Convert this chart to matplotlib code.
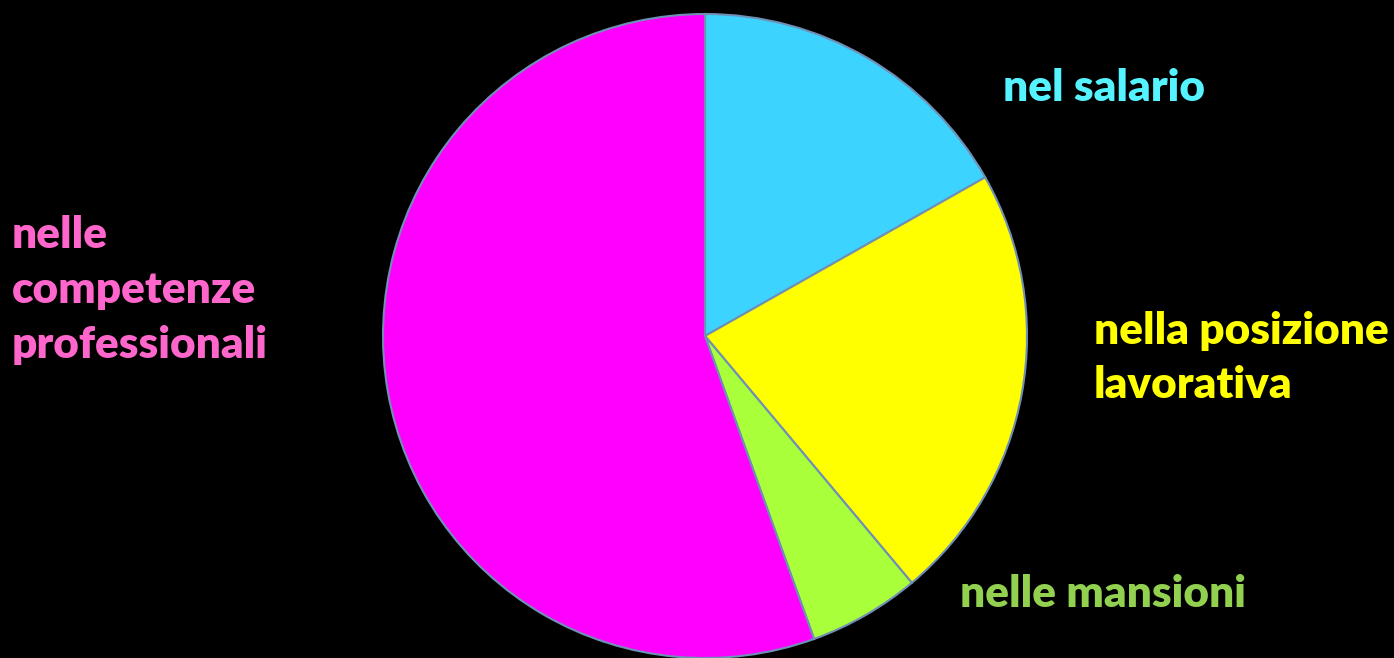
import matplotlib
matplotlib.use("Agg")
import matplotlib.pyplot as plt

categories = ["nel salario", "nella posizione\nlavorativa", "nelle mansioni", "nelle\ncompetenze\nprofessionali"]
values = [16.8, 22.1, 5.6, 55.5]
slice_colors = ["#3DD3FF", "#FFFF00", "#A8FF3A", "#FF00FF"]
label_colors = ["#55F2FF", "#FFFF00", "#92D050", "#FF66CC"]

W, H = 1394, 658
fig = plt.figure(figsize=(W / 100, H / 100), dpi=100, facecolor="black")
ax = fig.add_axes([0, 0, 1, 1])
ax.set_facecolor("black")

cx, cy, r = 705, H - 336, 322
ax.pie(values, colors=slice_colors, startangle=90, counterclock=False,
       center=(cx, cy), radius=r, frame=True,
       wedgeprops=dict(edgecolor="#6F8FB5", linewidth=1.5))
ax.set_xlim(0, W)
ax.set_ylim(0, H)
ax.set_aspect("equal")
ax.axis("off")

font = dict(family=["Lato", "DejaVu Sans"], fontweight="heavy", fontsize=31.8)
# label positions (left x, vertical center y in pixels from top)
label_pos = [(1003, 88), (1094, 358), (960, 594), (12, 290)]
for lab, col, (x, y) in zip(categories, label_colors, label_pos):
    ax.text(x, H - y, lab, color=col, ha="left", va="center",
            linespacing=1.45, **font)

fig.savefig("out.png", dpi=100, facecolor="black")
